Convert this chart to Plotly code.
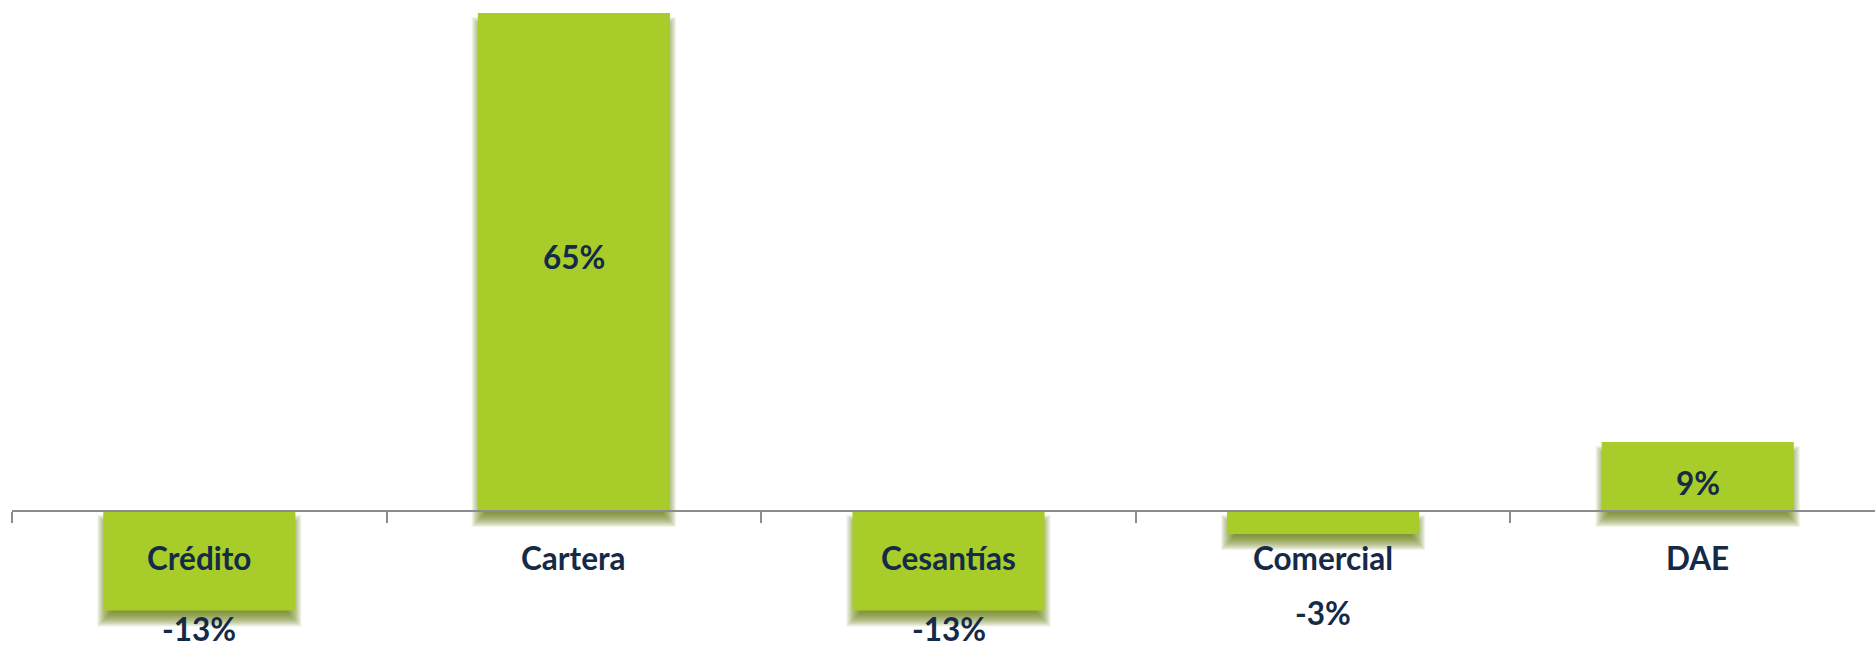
import plotly.graph_objects as go

categories = ["Crédito", "Cartera", "Cesantías", "Comercial", "DAE"]
values = [-13, 65, -13, -3, 9]
value_labels = ["-13%", "65%", "-13%", "-3%", "9%"]
# pixel nudges of the value labels (Excel manual label positions)
label_shift_px = [-18, 5, -18, -79, -6]

W, H = 1875, 647
ML, MR, MT, MB = 12, 0, 0, 0
cat_px = 374.6
ymin, ymax = -17.75, 66.71
bar_w = 0.513
bar_color = "#A8CD2B"
text_color = "#152A47"
axis_color = "#8C8C8C"
font_family = "Lato"
font_size = 31.5

plot_w = W - ML - MR
plot_h = H - MT - MB
s = plot_h / (ymax - ymin)          # px per unit
xr = [-0.5, -0.5 + plot_w / cat_px]

fig = go.Figure()

# soft drop shadow, built from layered translucent bars
off = 10
for e in range(6, -11, -1):
    bases, heights = [], []
    for v in values:
        y0, y1 = min(0, v), max(0, v)
        b = y0 - (off + e) / s
        t = y1 - (off - e) / s
        bases.append(b)
        heights.append(max(t - b, 0))
    fig.add_trace(go.Bar(
        x=categories, y=heights, base=bases,
        width=max(bar_w + 2 * e / cat_px, 0.01),
        marker=dict(color="rgba(95,125,15,0.09)", line=dict(width=0)),
        hoverinfo="skip", showlegend=False,
    ))

fig.add_trace(go.Bar(
    x=categories, y=values,
    width=bar_w,
    marker=dict(color=bar_color, line=dict(width=0)),
    hoverinfo="skip", showlegend=False,
))

annotations = []
for c in categories:
    annotations.append(dict(
        x=c, y=0, xref="x", yref="y", text=c, showarrow=False,
        yanchor="middle", xanchor="center", yshift=-47,
        font=dict(family=font_family, size=font_size, color=text_color, weight=700),
    ))
for c, v, lab, sh in zip(categories, values, value_labels, label_shift_px):
    yb = v / 2 if v > 0 else v
    annotations.append(dict(
        x=c, y=yb, xref="x", yref="y", text=lab, showarrow=False,
        yanchor="middle", xanchor="center", yshift=sh,
        font=dict(family=font_family, size=font_size, color=text_color, weight=700),
    ))

fig.update_layout(
    width=W, height=H,
    margin=dict(l=ML, r=MR, t=MT, b=MB, pad=0),
    barmode="overlay",
    plot_bgcolor="white", paper_bgcolor="white",
    annotations=annotations,
    hovermode=False,
    xaxis=dict(
        type="category", categoryorder="array", categoryarray=categories,
        range=xr, anchor="free", position=(0 - ymin) / (ymax - ymin),
        showline=True, linecolor=axis_color, linewidth=2,
        ticks="outside", tickson="boundaries", ticklen=11,
        tickcolor=axis_color, tickwidth=2,
        showticklabels=False, showgrid=False, zeroline=False,
        layer="above traces",
    ),
    yaxis=dict(range=[ymin, ymax], visible=False, showgrid=False, zeroline=False),
)

fig.write_html(
    "out.html",
    config={"displayModeBar": False},
    post_script="document.body.style.margin='0';document.body.style.overflow='hidden';",
)
